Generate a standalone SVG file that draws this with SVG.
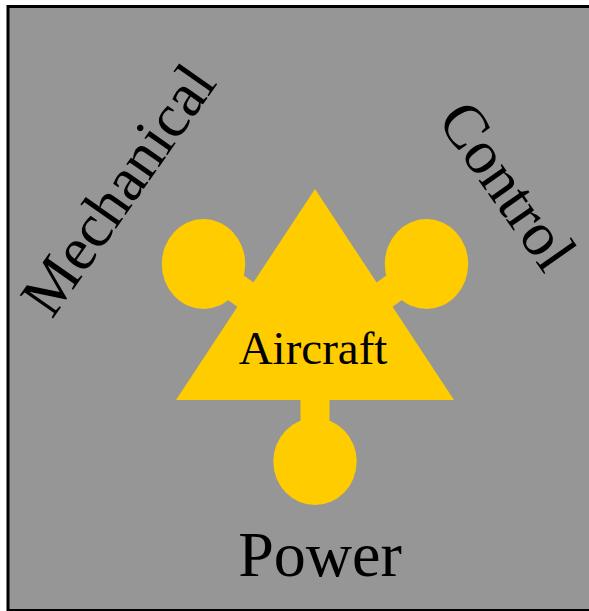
<svg xmlns="http://www.w3.org/2000/svg" width="589" height="611" viewBox="0 0 589 611">
<style>
.bg{fill:#969696;stroke:#000;stroke-width:3}
.y{fill:#FFCC00}
.conn{stroke:#FFCC00;stroke-width:29;fill:none}
.t{font-family:"Liberation Serif","Times New Roman",serif;fill:#000}
</style>
<rect class="bg" x="8" y="6.5" width="600" height="604"/>
<g id="connectors">
<line class="conn" x1="203" y1="264" x2="300" y2="334"/>
<line class="conn" x1="427" y1="264" x2="330" y2="334"/>
<line class="conn" x1="315" y1="340" x2="315" y2="462"/>
</g>
<g id="mechanical-node"><ellipse class="y" cx="203.5" cy="264" rx="41.7" ry="45"/></g>
<g id="control-node"><ellipse class="y" cx="426.5" cy="264" rx="41.7" ry="45"/></g>
<g id="power-node"><ellipse class="y" cx="315" cy="461.5" rx="41.7" ry="43.5"/></g>
<g id="aircraft">
<polygon class="y" points="315,189 176,400 454,400"/>
<text class="t" x="313" y="364" font-size="47" text-anchor="middle">Aircraft</text>
</g>
<g id="labels">
<text class="t" font-size="62" text-anchor="middle" transform="translate(135,201.5) rotate(-55)">Mechanical</text>
<text class="t" font-size="62" text-anchor="middle" transform="translate(490.5,197.5) rotate(55)">Control</text>
<text class="t" x="320" y="576" font-size="64" text-anchor="middle">Power</text>
</g>
</svg>
